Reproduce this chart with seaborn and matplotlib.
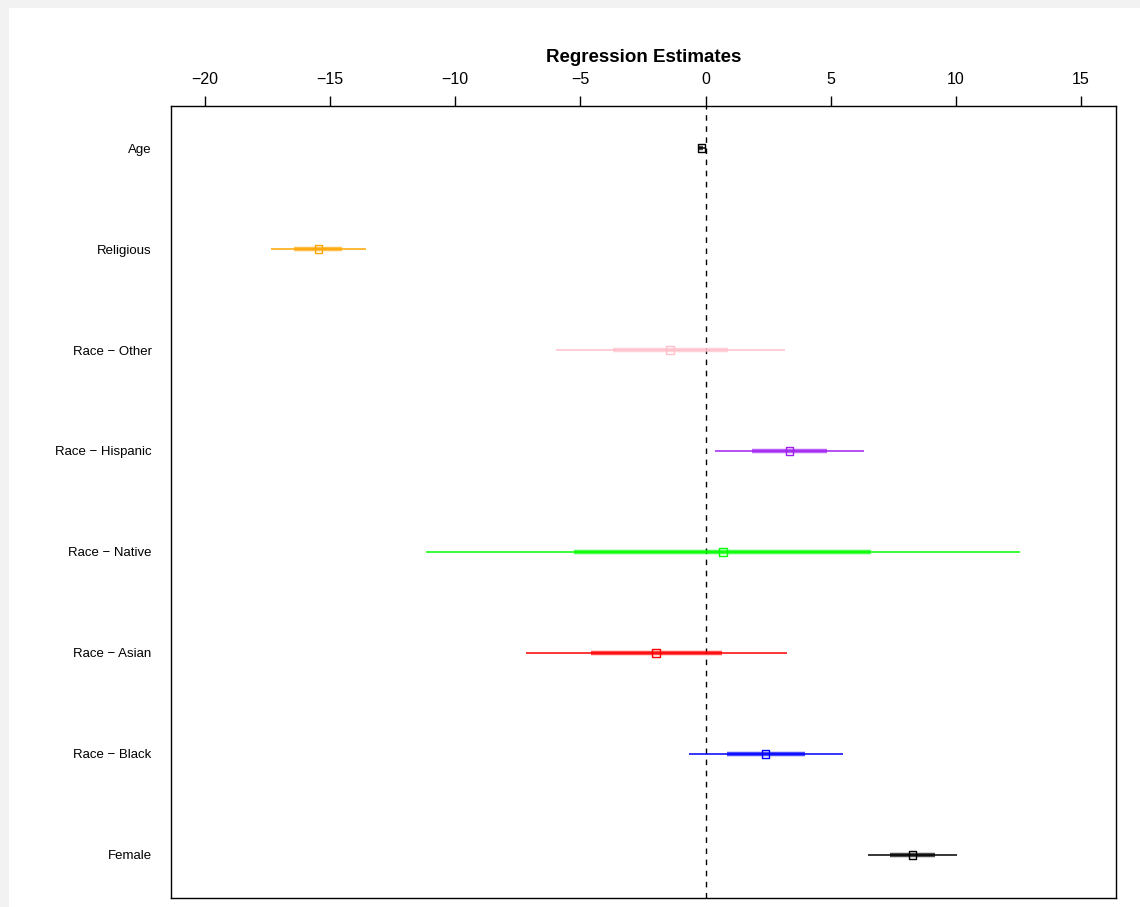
import matplotlib
matplotlib.use("Agg")
import matplotlib.pyplot as plt
from matplotlib.patches import Rectangle
import seaborn as sns
import pandas as pd

sns.set_theme(style="white")
plt.rcParams['font.family'] = ['Liberation Sans', 'DejaVu Sans']
plt.rcParams['text.color'] = 'black'
plt.rcParams['xtick.color'] = 'black'
plt.rcParams['ytick.color'] = 'black'

# coefficients, top to bottom
variables = ["Age", "Religious", "Race \u2212 Other", "Race \u2212 Hispanic",
             "Race \u2212 Native", "Race \u2212 Asian", "Race \u2212 Black", "Female"]
estimates = [-0.17, -15.47, -1.42, 3.35, 0.69, -1.98, 2.40, 8.27]
outer_lo = [-0.32, -17.37, -5.99, 0.38, -11.17, -7.19, -0.66, 6.50]
outer_hi = [-0.02, -13.57, 3.17, 6.33, 12.55, 3.24, 5.48, 10.06]
inner_lo = [-0.25, -16.43, -3.71, 1.85, -5.25, -4.59, 0.87, 7.37]
inner_hi = [-0.10, -14.51, 0.88, 4.85, 6.62, 0.64, 3.96, 9.18]
colors = ["black", "orange", "pink", "#a020f0", "#00ff00", "red", "blue", "black"]

df = pd.DataFrame({
    "var": variables, "est": estimates,
    "olo": outer_lo, "ohi": outer_hi, "ilo": inner_lo, "ihi": inner_hi,
    "col": colors,
})
df["pos"] = list(range(len(df), 0, -1))

fig = plt.figure(figsize=(11.4, 9.07), dpi=100, facecolor="#f2f2f2")
fig.patches.append(Rectangle((9 / 1140, 0), 1, 1 - 8 / 907, transform=fig.transFigure,
                             facecolor="white", edgecolor="none", zorder=-1))
ax = fig.add_axes([171 / 1140, 1 - 898 / 907, (1116 - 171) / 1140, (898 - 106) / 907])

ax.axvline(0, color="black", lw=1, ls=(0, (4, 4)), zorder=1)

for _, r in df.iterrows():
    ax.hlines(r["pos"], r["olo"], r["ohi"], color=r["col"], lw=1.1, zorder=2)
    ax.hlines(r["pos"], r["ilo"], r["ihi"], color=r["col"], lw=3.2, alpha=0.7, zorder=3)

sns.scatterplot(data=df, x="est", y="pos", hue="var", palette=dict(zip(df["var"], df["col"])),
                marker="s", s=30, linewidth=1.0, legend=False, ax=ax, zorder=4)
for coll in ax.collections:
    fc = coll.get_facecolors()
    if len(fc):
        coll.set_edgecolors(fc)
        coll.set_facecolors("none")

ax.set_xlim(-21.36, 16.40)
ax.set_ylim(0.574, 8.416)
ax.set_yticks(df["pos"])
ax.set_yticklabels(df["var"], fontsize=9.5)
ax.set_xticks([-20, -15, -10, -5, 0, 5, 10, 15])
ax.xaxis.tick_top()
ax.tick_params(axis="x", top=True, bottom=False, labeltop=True, labelbottom=False,
               length=7, width=1, color="black", labelsize=11.5, pad=6.5, direction="out")
ax.tick_params(axis="y", left=False, length=0, pad=14)
ax.set_xlabel("")
ax.set_ylabel("")
for s in ax.spines.values():
    s.set_color("black")
    s.set_linewidth(1)
ax.grid(False)
fig.text(643.5 / 1140, 1 - 58 / 907, "Regression Estimates", ha="center", va="center",
         fontsize=13.5, fontweight="bold")

fig.savefig("out.png", dpi=100, facecolor=fig.get_facecolor())
